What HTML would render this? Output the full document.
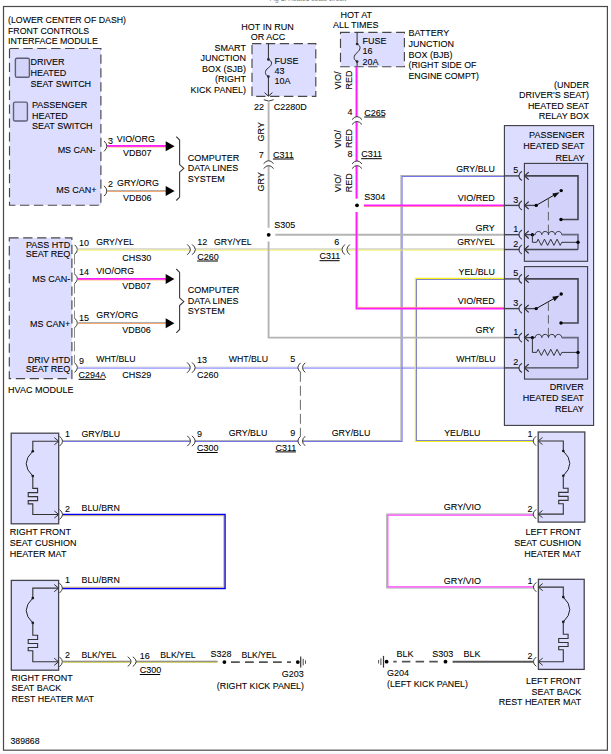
<!DOCTYPE html>
<html><head><meta charset="utf-8"><style>
html,body{margin:0;padding:0;background:#fff;width:611px;height:754px;overflow:hidden}
svg{display:block}
text{font-family:"Liberation Sans",sans-serif;stroke:#000;stroke-width:0.08px}
</style></head><body>
<svg width="611" height="754" viewBox="0 0 611 754" font-family="Liberation Sans, sans-serif" font-size="9">
<rect x="0" y="0" width="611" height="754" fill="#fff"/>
<rect x="0" y="752.5" width="611" height="2" fill="#f5f5fb"/>
<text transform="translate(269.6,1.4) scale(1,1.06)" font-size="8" fill="#808080" textLength="76.5" lengthAdjust="spacingAndGlyphs" style="stroke:none">Fig 1: Heated seats circuit</text>
<rect x="3.5" y="6.5" width="603.9" height="743.7" fill="none" stroke="#4a4a4a" stroke-width="1.2"/>
<polyline points="77.5,367.05 504.4,367.05" fill="none" stroke="#dcdcdc" stroke-width="1.1"/>
<polyline points="77.5,368.15 504.4,368.15" fill="none" stroke="#9494ff" stroke-width="1.1"/>
<polyline points="504.4,175.45 400.95,175.45 400.95,440.45 62.5,440.45" fill="none" stroke="#b0b0b0" stroke-width="1.1"/>
<polyline points="504.4,176.55 402.05,176.55 402.05,441.55 62.5,441.55" fill="none" stroke="#7474ec" stroke-width="1.1"/>
<polyline points="504.4,278.35 415.35,278.35 415.35,441.55 533.3,441.55" fill="none" stroke="#f2f020" stroke-width="1.1"/>
<polyline points="504.4,279.45 416.45,279.45 416.45,440.45 533.3,440.45" fill="none" stroke="#8484c4" stroke-width="1.1"/>
<text transform="translate(8,22.6) scale(1,1.06)" textLength="118" lengthAdjust="spacingAndGlyphs">(LOWER CENTER OF DASH)</text>
<text transform="translate(8,33.5) scale(1,1.06)" textLength="81.2" lengthAdjust="spacingAndGlyphs">FRONT CONTROLS</text>
<text transform="translate(8,44.4) scale(1,1.06)" textLength="89.8" lengthAdjust="spacingAndGlyphs">INTERFACE MODULE</text>
<rect x="9.5" y="48.5" width="91.4" height="156.7" fill="#ddddff" stroke="#474747" stroke-width="1.15" stroke-dasharray="9.3 4.6"/>
<rect x="15.4" y="58.2" width="14.0" height="19.1" fill="#d4d4fb" stroke="#5e5e76" stroke-width="1.4" rx="1.6"/>
<rect x="13.5" y="102.1" width="13.9" height="18.9" fill="#d4d4fb" stroke="#5e5e76" stroke-width="1.4" rx="1.6"/>
<text transform="translate(30.5,65.0) scale(1,1.06)">DRIVER</text>
<text transform="translate(30.5,75.8) scale(1,1.06)">HEATED</text>
<text transform="translate(30.5,86.6) scale(1,1.06)">SEAT SWITCH</text>
<text transform="translate(32,107.8) scale(1,1.06)">PASSENGER</text>
<text transform="translate(32,118.6) scale(1,1.06)">HEATED</text>
<text transform="translate(32,129.4) scale(1,1.06)">SEAT SWITCH</text>
<text transform="translate(95.6,152.7) scale(1,1.06)" text-anchor="end">MS CAN-</text>
<text transform="translate(96.4,193) scale(1,1.06)" text-anchor="end">MS CAN+</text>
<path d="M104.1,141.04999999999998 Q109.5,146.2 104.1,151.35" fill="none" stroke="#3a3a3a" stroke-width="1"/>
<polyline points="107.0,146.0 166.0,146.0" fill="none" stroke="#ff1cff" stroke-width="2.0"/>
<polyline points="107.0,147.3 166.0,147.3" fill="none" stroke="#ffc890" stroke-width="0.9"/>
<polygon points="165.7,141.2 174.6,146.2 165.7,151.2" fill="#000"/>
<text transform="translate(108,143.6) scale(1,1.06)">3</text>
<text transform="translate(116.8,141.8) scale(1,1.06)" textLength="38.0" lengthAdjust="spacingAndGlyphs">VIO/ORG</text>
<text transform="translate(123,156.3) scale(1,1.06)">VDB07</text>
<path d="M104.1,185.85 Q109.5,191 104.1,196.15" fill="none" stroke="#3a3a3a" stroke-width="1"/>
<polyline points="107.0,190.45 166.0,190.45" fill="none" stroke="#b0b0b0" stroke-width="1.1"/>
<polyline points="107.0,191.55 166.0,191.55" fill="none" stroke="#f4a870" stroke-width="1.1"/>
<polygon points="165.7,186.0 174.6,191 165.7,196.0" fill="#000"/>
<text transform="translate(108,187.2) scale(1,1.06)">2</text>
<text transform="translate(117,186.2) scale(1,1.06)" textLength="41.9" lengthAdjust="spacingAndGlyphs">GRY/ORG</text>
<text transform="translate(123,200.6) scale(1,1.06)">VDB06</text>
<path d="M176.3,136.7 L179.60000000000002,140.0 L179.60000000000002,164.6 L183.9,168.4 L179.60000000000002,172.20000000000002 L179.60000000000002,197.2 L176.3,200.5" fill="none" stroke="#3a3a3a" stroke-width="1.1" stroke-linejoin="round"/>
<text transform="translate(187.7,160.7) scale(1,1.06)">COMPUTER</text>
<text transform="translate(187.7,171.15) scale(1,1.06)">DATA LINES</text>
<text transform="translate(187.7,181.6) scale(1,1.06)">SYSTEM</text>
<rect x="9.3" y="237.8" width="62.6" height="140.8" fill="#ddddff" stroke="#474747" stroke-width="1.15" stroke-dasharray="9.3 4.6"/>
<text transform="translate(70.3,247.6) scale(1,1.06)" text-anchor="end">PASS HTD</text>
<text transform="translate(70.3,256.9) scale(1,1.06)" text-anchor="end">SEAT REQ</text>
<text transform="translate(70.3,281.5) scale(1,1.06)" text-anchor="end">MS CAN-</text>
<text transform="translate(70.3,326.5) scale(1,1.06)" text-anchor="end">MS CAN+</text>
<text transform="translate(70.3,362.6) scale(1,1.06)" text-anchor="end">DRIV HTD</text>
<text transform="translate(70.3,372.4) scale(1,1.06)" text-anchor="end">SEAT REQ</text>
<text transform="translate(8.1,392.8) scale(1,1.06)">HVAC MODULE</text>
<line x1="74.5" y1="254.4" x2="74.5" y2="274.0" stroke="#8a8a8a" stroke-width="1" stroke-dasharray="10 3.5"/>
<line x1="74.5" y1="283.6" x2="74.5" y2="318.2" stroke="#8a8a8a" stroke-width="1" stroke-dasharray="10 3.5"/>
<line x1="74.5" y1="327.8" x2="74.5" y2="362.8" stroke="#8a8a8a" stroke-width="1" stroke-dasharray="10 3.5"/>
<path d="M74.6,244.79999999999998 Q80.19999999999999,249.6 74.6,254.4" fill="none" stroke="#3a3a3a" stroke-width="1"/>
<polyline points="77.5,249.05 504.4,249.05" fill="none" stroke="#bcbcc0" stroke-width="1.1"/>
<polyline points="77.5,250.15 504.4,250.15" fill="none" stroke="#f2f250" stroke-width="0.9"/>
<text transform="translate(79,245.9) scale(1,1.06)">10</text>
<text transform="translate(96.2,244.6) scale(1,1.06)" textLength="37.6" lengthAdjust="spacingAndGlyphs">GRY/YEL</text>
<text transform="translate(122.3,260.6) scale(1,1.06)">CHS30</text>
<rect x="190.09999999999997" y="247.8" width="4.9" height="3.6" fill="#fff"/>
<path d="M187.2,244.45 Q193.6,249.6 187.2,254.75" fill="none" stroke="#3a3a3a" stroke-width="1"/>
<path d="M192.1,244.45 Q198.5,249.6 192.1,254.75" fill="none" stroke="#3a3a3a" stroke-width="1"/>
<text transform="translate(197.2,244.8) scale(1,1.06)">12</text>
<text transform="translate(214,244.6) scale(1,1.06)" textLength="37.6" lengthAdjust="spacingAndGlyphs">GRY/YEL</text>
<text transform="translate(197.2,259.7) scale(1,1.06)">C260</text>
<line x1="197.2" y1="261.0" x2="218" y2="261.0" stroke="#000" stroke-width="1"/>
<text transform="translate(334.2,244.7) scale(1,1.06)">6</text>
<text transform="translate(319.5,259.4) scale(1,1.06)">C311</text>
<line x1="319.5" y1="260.7" x2="339.6" y2="260.7" stroke="#000" stroke-width="1"/>
<text transform="translate(494.8,244.8) scale(1,1.06)" text-anchor="end" textLength="37.6" lengthAdjust="spacingAndGlyphs">GRY/YEL</text>
<path d="M74.6,274.0 Q80.19999999999999,278.8 74.6,283.6" fill="none" stroke="#3a3a3a" stroke-width="1"/>
<polyline points="77.5,278.9 166.0,278.9" fill="none" stroke="#ff1cff" stroke-width="2.0"/>
<polyline points="77.5,280.2 166.0,280.2" fill="none" stroke="#ffc890" stroke-width="0.9"/>
<polygon points="165.7,274.1 174.4,279.1 165.7,284.1" fill="#000"/>
<text transform="translate(79,275.3) scale(1,1.06)">14</text>
<text transform="translate(96.2,274.1) scale(1,1.06)" textLength="38.0" lengthAdjust="spacingAndGlyphs">VIO/ORG</text>
<text transform="translate(122.3,289.3) scale(1,1.06)">VDB07</text>
<path d="M74.6,318.2 Q80.19999999999999,323 74.6,327.8" fill="none" stroke="#3a3a3a" stroke-width="1"/>
<polyline points="77.5,322.45 166.0,322.45" fill="none" stroke="#b0b0b0" stroke-width="1.1"/>
<polyline points="77.5,323.55 166.0,323.55" fill="none" stroke="#f4a870" stroke-width="1.1"/>
<polygon points="165.7,318.2 174.4,323.2 165.7,328.2" fill="#000"/>
<text transform="translate(79,320.9) scale(1,1.06)">15</text>
<text transform="translate(96.2,318.4) scale(1,1.06)" textLength="41.9" lengthAdjust="spacingAndGlyphs">GRY/ORG</text>
<text transform="translate(122.3,333.1) scale(1,1.06)">VDB06</text>
<path d="M176.3,269 L179.60000000000002,272.3 L179.60000000000002,297.9 L183.9,301.7 L179.60000000000002,305.5 L179.60000000000002,329.5 L176.3,332.8" fill="none" stroke="#3a3a3a" stroke-width="1.1" stroke-linejoin="round"/>
<text transform="translate(187.8,293.4) scale(1,1.06)">COMPUTER</text>
<text transform="translate(187.8,303.8) scale(1,1.06)">DATA LINES</text>
<text transform="translate(187.8,314.2) scale(1,1.06)">SYSTEM</text>
<path d="M74.6,362.8 Q80.19999999999999,367.6 74.6,372.40000000000003" fill="none" stroke="#3a3a3a" stroke-width="1"/>
<text transform="translate(79,363.5) scale(1,1.06)">9</text>
<text transform="translate(96.2,361.6) scale(1,1.06)" textLength="39.3" lengthAdjust="spacingAndGlyphs">WHT/BLU</text>
<text transform="translate(78.6,378) scale(1,1.06)">C294A</text>
<line x1="78.6" y1="379.3" x2="105.2" y2="379.3" stroke="#000" stroke-width="1"/>
<text transform="translate(122.3,378) scale(1,1.06)">CHS29</text>
<rect x="189.99999999999997" y="365.8" width="4.9" height="3.6" fill="#fff"/>
<path d="M187.1,362.45000000000005 Q193.5,367.6 187.1,372.75" fill="none" stroke="#3a3a3a" stroke-width="1"/>
<path d="M192.0,362.45000000000005 Q198.4,367.6 192.0,372.75" fill="none" stroke="#3a3a3a" stroke-width="1"/>
<text transform="translate(196.9,362.7) scale(1,1.06)">13</text>
<text transform="translate(196.9,377.5) scale(1,1.06)">C260</text>
<text transform="translate(228.7,361.8) scale(1,1.06)" textLength="39.3" lengthAdjust="spacingAndGlyphs">WHT/BLU</text>
<text transform="translate(290.3,362.3) scale(1,1.06)">5</text>
<text transform="translate(495.5,362.4) scale(1,1.06)" text-anchor="end" textLength="39.3" lengthAdjust="spacingAndGlyphs">WHT/BLU</text>
<text transform="translate(267.5,29.6) scale(1,1.06)" text-anchor="middle">HOT IN RUN</text>
<text transform="translate(268.1,39.5) scale(1,1.06)" text-anchor="middle">OR ACC</text>
<text transform="translate(245.9,50.5) scale(1,1.06)" text-anchor="end">SMART</text>
<text transform="translate(245.9,61.05) scale(1,1.06)" text-anchor="end">JUNCTION</text>
<text transform="translate(245.9,71.6) scale(1,1.06)" text-anchor="end">BOX (SJB)</text>
<text transform="translate(245.9,82.15) scale(1,1.06)" text-anchor="end">(RIGHT</text>
<text transform="translate(245.9,92.7) scale(1,1.06)" text-anchor="end">KICK PANEL)</text>
<rect x="252" y="43.6" width="63.8" height="52.7" fill="#ddddff" stroke="#474747" stroke-width="1.15" stroke-dasharray="9.3 4.6"/>
<line x1="268.4" y1="43.6" x2="268.4" y2="59.4" stroke="#2a2a2a" stroke-width="1"/>
<path d="M268.4,59.4 C272.6,61.2 272.6,64.8 268.4,67.8 C264.4,70.6 264.4,74.6 268.4,76.6" fill="none" stroke="#2a2a2a" stroke-width="1"/>
<circle cx="268.4" cy="59.4" r="1.35" fill="#2a2a2a"/>
<circle cx="268.4" cy="76.6" r="1.35" fill="#2a2a2a"/>
<line x1="268.4" y1="76.6" x2="268.4" y2="96" stroke="#2a2a2a" stroke-width="1"/>
<polyline points="264.6,92.6 268.4,96.2 272.4,92.6" fill="none" stroke="#2a2a2a" stroke-width="1"/>
<text transform="translate(274.5,64.0) scale(1,1.06)">FUSE</text>
<text transform="translate(274.5,73.85) scale(1,1.06)">43</text>
<text transform="translate(274.5,83.7) scale(1,1.06)">10A</text>
<path d="M263.8,99.7 Q268.7,102.5 273.59999999999997,99.7" fill="none" stroke="#3a3a3a" stroke-width="1"/>
<text transform="translate(254.1,110.4) scale(1,1.06)">22</text>
<text transform="translate(273.7,110.4) scale(1,1.06)">C2280D</text>
<line x1="268.6" y1="102.3" x2="268.6" y2="227.8" stroke="#b4b4b4" stroke-width="1.9"/>
<polyline points="268.6,241.5 268.6,337.6 504.4,337.6" fill="none" stroke="#b4b4b4" stroke-width="1.9"/>
<line x1="275.3" y1="234.7" x2="504.4" y2="234.7" stroke="#b4b4b4" stroke-width="1.9"/>
<circle cx="268.7" cy="234.8" r="1.9" fill="#000"/>
<text transform="translate(274.3,227.5) scale(1,1.06)">S305</text>
<text transform="translate(264.2,141.4) rotate(-90) scale(1,1.06)">GRY</text>
<text transform="translate(263.5,191.4) rotate(-90) scale(1,1.06)">GRY</text>
<rect x="266.8" y="161.0" width="3.6" height="4.9" fill="#fff"/>
<path d="M263.6,163.7 Q268.6,157.7 273.6,163.7" fill="none" stroke="#3a3a3a" stroke-width="1"/>
<path d="M263.6,168.6 Q268.6,162.6 273.6,168.6" fill="none" stroke="#3a3a3a" stroke-width="1"/>
<text transform="translate(258.7,157.7) scale(1,1.06)">7</text>
<text transform="translate(272.9,157.7) scale(1,1.06)">C311</text>
<line x1="272.9" y1="159.0" x2="293.9" y2="159.0" stroke="#000" stroke-width="1"/>
<text transform="translate(494.8,230.6) scale(1,1.06)" text-anchor="end">GRY</text>
<text transform="translate(494.8,333.4) scale(1,1.06)" text-anchor="end">GRY</text>
<text transform="translate(356.2,17.8) scale(1,1.06)" text-anchor="middle">HOT AT</text>
<text transform="translate(355.8,28.3) scale(1,1.06)" text-anchor="middle">ALL TIMES</text>
<rect x="340.5" y="32.4" width="63.9" height="34.3" fill="#ddddff" stroke="#474747" stroke-width="1.15" stroke-dasharray="9.3 4.6"/>
<line x1="357.1" y1="32.4" x2="357.1" y2="44" stroke="#2a2a2a" stroke-width="1"/>
<path d="M357.1,44 C361,45.8 361,49.4 357.1,52.6 C353.2,55.6 353.2,59.6 357.1,61.6" fill="none" stroke="#2a2a2a" stroke-width="1"/>
<circle cx="357.1" cy="44" r="1.35" fill="#2a2a2a"/>
<circle cx="357.1" cy="61.6" r="1.35" fill="#2a2a2a"/>
<line x1="357.1" y1="61.6" x2="357.1" y2="66.7" stroke="#2a2a2a" stroke-width="1"/>
<text transform="translate(362.6,44.4) scale(1,1.06)">FUSE</text>
<text transform="translate(362.6,54.45) scale(1,1.06)">16</text>
<text transform="translate(362.6,64.5) scale(1,1.06)">20A</text>
<text transform="translate(408.5,35.9) scale(1,1.06)">BATTERY</text>
<text transform="translate(408.5,46.75) scale(1,1.06)">JUNCTION</text>
<text transform="translate(408.5,57.6) scale(1,1.06)">BOX (BJB)</text>
<text transform="translate(408.5,68.45) scale(1,1.06)" textLength="67.9" lengthAdjust="spacingAndGlyphs">(RIGHT SIDE OF</text>
<text transform="translate(408.5,79.3) scale(1,1.06)" textLength="70.5" lengthAdjust="spacingAndGlyphs">ENGINE COMPT)</text>
<polyline points="356.4,66.7 356.4,198.7" fill="none" stroke="#ff1cff" stroke-width="1.7"/>
<polyline points="357.6,66.7 357.6,198.7" fill="none" stroke="#ff7a86" stroke-width="0.8"/>
<polyline points="356.4,211.9 356.4,308.6 504.4,308.6" fill="none" stroke="#ff1cff" stroke-width="1.7"/>
<polyline points="357.6,211.9 357.6,307.4 504.4,307.4" fill="none" stroke="#ff7a86" stroke-width="0.8"/>
<polyline points="363.9,205.3 504.4,205.3" fill="none" stroke="#ff1cff" stroke-width="1.7"/>
<polyline points="363.9,206.5 504.4,206.5" fill="none" stroke="#ff7a86" stroke-width="0.8"/>
<circle cx="357" cy="205.3" r="1.9" fill="#000"/>
<text transform="translate(364.2,200.3) scale(1,1.06)">S304</text>
<text transform="translate(341.4,89.4) rotate(-90) scale(1,1.06)">VIO/</text>
<text transform="translate(352.4,89.4) rotate(-90) scale(1,1.06)">RED</text>
<text transform="translate(341.4,147.9) rotate(-90) scale(1,1.06)">VIO/</text>
<text transform="translate(352.4,147.9) rotate(-90) scale(1,1.06)">RED</text>
<text transform="translate(341.4,192.3) rotate(-90) scale(1,1.06)">VIO/</text>
<text transform="translate(352.4,192.3) rotate(-90) scale(1,1.06)">RED</text>
<rect x="355.2" y="116.89999999999999" width="3.6" height="4.9" fill="#fff"/>
<path d="M352.0,119.6 Q357,113.6 362.0,119.6" fill="none" stroke="#3a3a3a" stroke-width="1"/>
<path d="M352.0,124.5 Q357,118.5 362.0,124.5" fill="none" stroke="#3a3a3a" stroke-width="1"/>
<text transform="translate(347.5,115.3) scale(1,1.06)">4</text>
<text transform="translate(364.2,115.7) scale(1,1.06)">C265</text>
<line x1="364.2" y1="117.0" x2="385.2" y2="117.0" stroke="#000" stroke-width="1"/>
<rect x="355.2" y="161.20000000000002" width="3.6" height="4.7" fill="#fff"/>
<path d="M352.0,163.9 Q357,157.9 362.0,163.9" fill="none" stroke="#3a3a3a" stroke-width="1"/>
<path d="M352.0,168.6 Q357,162.6 362.0,168.6" fill="none" stroke="#3a3a3a" stroke-width="1"/>
<text transform="translate(347.5,157.4) scale(1,1.06)">8</text>
<text transform="translate(361.2,157.4) scale(1,1.06)">C311</text>
<line x1="361.2" y1="158.70000000000002" x2="381.8" y2="158.70000000000002" stroke="#000" stroke-width="1"/>
<text transform="translate(494.8,200.8) scale(1,1.06)" text-anchor="end">VIO/RED</text>
<text transform="translate(494.8,303.8) scale(1,1.06)" text-anchor="end">VIO/RED</text>
<text transform="translate(494.8,171.5) scale(1,1.06)" text-anchor="end" textLength="38.6" lengthAdjust="spacingAndGlyphs">GRY/BLU</text>
<rect x="190.2" y="439.2" width="4.7" height="3.6" fill="#fff"/>
<path d="M187.3,435.85 Q193.70000000000002,441 187.3,446.15" fill="none" stroke="#3a3a3a" stroke-width="1"/>
<path d="M192.0,435.85 Q198.4,441 192.0,446.15" fill="none" stroke="#3a3a3a" stroke-width="1"/>
<text transform="translate(196.9,436.5) scale(1,1.06)">9</text>
<text transform="translate(228.7,436.4) scale(1,1.06)" textLength="38.6" lengthAdjust="spacingAndGlyphs">GRY/BLU</text>
<text transform="translate(196.9,451.2) scale(1,1.06)">C300</text>
<line x1="196.9" y1="452.5" x2="217.7" y2="452.5" stroke="#000" stroke-width="1"/>
<text transform="translate(290.2,436.2) scale(1,1.06)">9</text>
<text transform="translate(275.5,450.6) scale(1,1.06)">C311</text>
<line x1="275.5" y1="451.90000000000003" x2="295.9" y2="451.90000000000003" stroke="#000" stroke-width="1"/>
<text transform="translate(331.7,436.3) scale(1,1.06)" textLength="38.6" lengthAdjust="spacingAndGlyphs">GRY/BLU</text>
<rect x="298.20000000000005" y="365.8" width="4.6" height="3.6" fill="#fff"/>
<path d="M300.6,362.8 Q295.20000000000005,367.6 300.6,372.40000000000003" fill="none" stroke="#3a3a3a" stroke-width="1"/>
<path d="M305.2,362.8 Q299.8,367.6 305.2,372.40000000000003" fill="none" stroke="#3a3a3a" stroke-width="1"/>
<rect x="298.20000000000005" y="439.2" width="4.6" height="3.6" fill="#fff"/>
<path d="M300.6,436.2 Q295.20000000000005,441 300.6,445.8" fill="none" stroke="#3a3a3a" stroke-width="1"/>
<path d="M305.2,436.2 Q299.8,441 305.2,445.8" fill="none" stroke="#3a3a3a" stroke-width="1"/>
<line x1="300.4" y1="371.8" x2="300.4" y2="436.4" stroke="#6a6a6a" stroke-width="1" stroke-dasharray="10 4"/>
<rect x="342.3" y="247.8" width="4.9" height="3.6" fill="#fff"/>
<path d="M344.9,244.5 Q339.09999999999997,249.6 344.9,254.7" fill="none" stroke="#3a3a3a" stroke-width="1"/>
<path d="M349.8,244.5 Q344.0,249.6 349.8,254.7" fill="none" stroke="#3a3a3a" stroke-width="1"/>
<text transform="translate(494.8,274.5) scale(1,1.06)" text-anchor="end" textLength="36.3" lengthAdjust="spacingAndGlyphs">YEL/BLU</text>
<text transform="translate(444.2,436.3) scale(1,1.06)" textLength="36.3" lengthAdjust="spacingAndGlyphs">YEL/BLU</text>
<polyline points="533.3,514.05 386.75,514.05 386.75,587.95 533.3,587.95" fill="none" stroke="#a8a8a8" stroke-width="1.1"/>
<polyline points="533.3,515.15 387.85,515.15 387.85,586.85 533.3,586.85" fill="none" stroke="#ff44ff" stroke-width="1.1"/>
<text transform="translate(443.8,510.4) scale(1,1.06)">GRY/VIO</text>
<text transform="translate(443.8,583.5) scale(1,1.06)">GRY/VIO</text>
<polyline points="62.5,514.5 225.0,514.5 225.0,588.4 62.5,588.4" fill="none" stroke="#0000f4" stroke-width="1.5"/>
<polyline points="62.5,515.7 223.8,515.7 223.8,587.2 62.5,587.2" fill="none" stroke="#c0a058" stroke-width="0.8"/>
<text transform="translate(81.5,510.5) scale(1,1.06)" textLength="38.3" lengthAdjust="spacingAndGlyphs">BLU/BRN</text>
<text transform="translate(81.5,583.3) scale(1,1.06)" textLength="38.3" lengthAdjust="spacingAndGlyphs">BLU/BRN</text>
<text transform="translate(589,87.6) scale(1,1.06)" text-anchor="end">(UNDER</text>
<text transform="translate(589,98.2) scale(1,1.06)" text-anchor="end">DRIVER'S SEAT)</text>
<text transform="translate(589,108.8) scale(1,1.06)" text-anchor="end">HEATED SEAT</text>
<text transform="translate(589,119.4) scale(1,1.06)" text-anchor="end">RELAY BOX</text>
<rect x="504.4" y="125.6" width="89.2" height="299.8" fill="#ddddff" stroke="#3c3c44" stroke-width="1.1"/>
<text transform="translate(584.4,137.7) scale(1,1.06)" text-anchor="end">PASSENGER</text>
<text transform="translate(584.4,149.15) scale(1,1.06)" text-anchor="end">HEATED SEAT</text>
<text transform="translate(584.4,160.6) scale(1,1.06)" text-anchor="end">RELAY</text>
<rect x="524.4" y="163.4" width="63.2" height="97.9" fill="#d2d2fa" stroke="#3c3c44" stroke-width="1.1"/>
<rect x="524.5" y="266.6" width="63.1" height="112.5" fill="#d2d2fa" stroke="#3c3c44" stroke-width="1.1"/>
<text transform="translate(583.8,389.8) scale(1,1.06)" text-anchor="end">DRIVER</text>
<text transform="translate(583.8,400.75) scale(1,1.06)" text-anchor="end">HEATED SEAT</text>
<text transform="translate(583.8,411.7) scale(1,1.06)" text-anchor="end">RELAY</text>
<line x1="504.4" y1="175.9" x2="519.5" y2="175.9" stroke="#44444f" stroke-width="1.4"/>
<path d="M521.9,171.25 Q515.6999999999999,175.9 521.9,180.55" fill="none" stroke="#3a3a3a" stroke-width="1.1"/>
<polyline points="528.7,172.1 524.6,175.9 528.7,179.70000000000002" fill="none" stroke="#222" stroke-width="1.1"/>
<text transform="translate(518.2,173.0) scale(1,1.06)" text-anchor="end">5</text>
<line x1="504.4" y1="205.4" x2="519.5" y2="205.4" stroke="#44444f" stroke-width="1.4"/>
<path d="M521.9,200.75 Q515.6999999999999,205.4 521.9,210.05" fill="none" stroke="#3a3a3a" stroke-width="1.1"/>
<polyline points="528.7,201.6 524.6,205.4 528.7,209.20000000000002" fill="none" stroke="#222" stroke-width="1.1"/>
<text transform="translate(518.2,202.5) scale(1,1.06)" text-anchor="end">3</text>
<line x1="504.4" y1="234.7" x2="519.5" y2="234.7" stroke="#44444f" stroke-width="1.4"/>
<path d="M521.9,230.04999999999998 Q515.6999999999999,234.7 521.9,239.35" fill="none" stroke="#3a3a3a" stroke-width="1.1"/>
<polyline points="528.7,230.89999999999998 524.6,234.7 528.7,238.5" fill="none" stroke="#222" stroke-width="1.1"/>
<text transform="translate(518.2,231.8) scale(1,1.06)" text-anchor="end">1</text>
<line x1="504.4" y1="249.5" x2="519.5" y2="249.5" stroke="#44444f" stroke-width="1.4"/>
<path d="M521.9,244.85 Q515.6999999999999,249.5 521.9,254.15" fill="none" stroke="#3a3a3a" stroke-width="1.1"/>
<polyline points="528.7,245.7 524.6,249.5 528.7,253.3" fill="none" stroke="#222" stroke-width="1.1"/>
<text transform="translate(518.2,246.6) scale(1,1.06)" text-anchor="end">2</text>
<polyline points="524.6,175.9 578,175.9 578,219.5 561,219.5" fill="none" stroke="#44444f" stroke-width="1.6"/>
<circle cx="561" cy="219.5" r="1.7" fill="#000"/>
<line x1="524.6" y1="205.4" x2="536.2" y2="205.4" stroke="#44444f" stroke-width="1.3"/>
<circle cx="536.2" cy="205.4" r="1.7" fill="#000"/>
<line x1="536.2" y1="205.4" x2="556.5" y2="193.7" stroke="#111" stroke-width="1"/>
<polygon points="559.60,192.20 554.71,197.80 552.27,193.43" fill="#111"/>
<circle cx="561.2" cy="190.6" r="1.7" fill="#000"/>
<line x1="548.4" y1="199.1" x2="548.4" y2="234.2" stroke="#555" stroke-width="0.9" stroke-dasharray="8.5 4.3"/>
<line x1="524.6" y1="234.7" x2="532.4" y2="234.7" stroke="#44444f" stroke-width="1.3"/>
<circle cx="532.4" cy="234.7" r="1.7" fill="#000"/>
<line x1="532.4" y1="234.7" x2="535.2" y2="234.7" stroke="#222" stroke-width="0.9"/>
<path d="M535.2,234.7 C535.5,230.41 541.5500000000001,230.41 541.85,234.7 C542.15,230.41 548.2,230.41 548.5,234.7 C548.8,230.41 554.85,230.41 555.15,234.7 C555.4499999999999,230.41 561.5,230.41 561.8,234.7" fill="none" stroke="#222" stroke-width="0.9"/>
<polyline points="561.8,234.7 578,234.7 578,249.5" fill="none" stroke="#6a6a7e" stroke-width="1.7"/>
<polyline points="532.4,234.7 532.4,242.3 536.6,242.3" fill="none" stroke="#222" stroke-width="0.9"/>
<polyline points="536.6,242.3 538.18,239.20000000000002 541.33,245.4 544.48,239.20000000000002 547.62,245.4 550.78,239.20000000000002 553.93,245.4 557.08,239.20000000000002 560.23,245.4 561.8,242.3" fill="none" stroke="#222" stroke-width="0.9"/>
<line x1="561.8" y1="242.3" x2="578" y2="242.3" stroke="#222" stroke-width="0.9"/>
<circle cx="578" cy="242.3" r="1.7" fill="#000"/>
<line x1="524.6" y1="249.5" x2="578" y2="249.5" stroke="#44444f" stroke-width="1.3"/>
<line x1="504.4" y1="278.9" x2="519.5" y2="278.9" stroke="#44444f" stroke-width="1.4"/>
<path d="M521.9,274.25 Q515.6999999999999,278.9 521.9,283.54999999999995" fill="none" stroke="#3a3a3a" stroke-width="1.1"/>
<polyline points="528.7,275.09999999999997 524.6,278.9 528.7,282.7" fill="none" stroke="#222" stroke-width="1.1"/>
<text transform="translate(518.2,276.0) scale(1,1.06)" text-anchor="end">5</text>
<line x1="504.4" y1="308.6" x2="519.5" y2="308.6" stroke="#44444f" stroke-width="1.4"/>
<path d="M521.9,303.95000000000005 Q515.6999999999999,308.6 521.9,313.25" fill="none" stroke="#3a3a3a" stroke-width="1.1"/>
<polyline points="528.7,304.8 524.6,308.6 528.7,312.40000000000003" fill="none" stroke="#222" stroke-width="1.1"/>
<text transform="translate(518.2,305.7) scale(1,1.06)" text-anchor="end">3</text>
<line x1="504.4" y1="337.6" x2="519.5" y2="337.6" stroke="#44444f" stroke-width="1.4"/>
<path d="M521.9,332.95000000000005 Q515.6999999999999,337.6 521.9,342.25" fill="none" stroke="#3a3a3a" stroke-width="1.1"/>
<polyline points="528.7,333.8 524.6,337.6 528.7,341.40000000000003" fill="none" stroke="#222" stroke-width="1.1"/>
<text transform="translate(518.2,334.7) scale(1,1.06)" text-anchor="end">1</text>
<line x1="504.4" y1="367.9" x2="519.5" y2="367.9" stroke="#44444f" stroke-width="1.4"/>
<path d="M521.9,363.25 Q515.6999999999999,367.9 521.9,372.54999999999995" fill="none" stroke="#3a3a3a" stroke-width="1.1"/>
<polyline points="528.7,364.09999999999997 524.6,367.9 528.7,371.7" fill="none" stroke="#222" stroke-width="1.1"/>
<text transform="translate(518.2,365.0) scale(1,1.06)" text-anchor="end">2</text>
<polyline points="524.6,278.9 578,278.9 578,323.0 561,323.0" fill="none" stroke="#44444f" stroke-width="1.6"/>
<circle cx="561" cy="323.0" r="1.7" fill="#000"/>
<line x1="524.6" y1="308.6" x2="536.2" y2="308.6" stroke="#44444f" stroke-width="1.3"/>
<circle cx="536.2" cy="308.6" r="1.7" fill="#000"/>
<line x1="536.2" y1="308.6" x2="556.5" y2="297.1" stroke="#111" stroke-width="1"/>
<polygon points="559.60,295.60 554.67,301.17 552.26,296.79" fill="#111"/>
<circle cx="561.2" cy="294.0" r="1.7" fill="#000"/>
<line x1="548.4" y1="302.3" x2="548.4" y2="337.1" stroke="#555" stroke-width="0.9" stroke-dasharray="8.5 4.3"/>
<line x1="524.6" y1="337.6" x2="532.4" y2="337.6" stroke="#44444f" stroke-width="1.3"/>
<circle cx="532.4" cy="337.6" r="1.7" fill="#000"/>
<line x1="532.4" y1="337.6" x2="535.2" y2="337.6" stroke="#222" stroke-width="0.9"/>
<path d="M535.2,337.6 C535.5,333.31 541.5500000000001,333.31 541.85,337.6 C542.15,333.31 548.2,333.31 548.5,337.6 C548.8,333.31 554.85,333.31 555.15,337.6 C555.4499999999999,333.31 561.5,333.31 561.8,337.6" fill="none" stroke="#222" stroke-width="0.9"/>
<polyline points="561.8,337.6 578,337.6 578,367.9" fill="none" stroke="#6a6a7e" stroke-width="1.7"/>
<polyline points="532.4,337.6 532.4,352.4 536.6,352.4" fill="none" stroke="#222" stroke-width="0.9"/>
<polyline points="536.6,352.4 538.18,349.29999999999995 541.33,355.5 544.48,349.29999999999995 547.62,355.5 550.78,349.29999999999995 553.93,355.5 557.08,349.29999999999995 560.23,355.5 561.8,352.4" fill="none" stroke="#222" stroke-width="0.9"/>
<line x1="561.8" y1="352.4" x2="578" y2="352.4" stroke="#222" stroke-width="0.9"/>
<circle cx="578" cy="352.4" r="1.7" fill="#000"/>
<line x1="524.6" y1="367.9" x2="578" y2="367.9" stroke="#44444f" stroke-width="1.3"/>
<rect x="11.2" y="433.2" width="47.5" height="90.6" fill="#ddddff" stroke="#454550" stroke-width="1.3"/>
<polyline points="58.7,441.2 32.8,441.2 32.8,451.2" fill="none" stroke="#333" stroke-width="1.1"/>
<path d="M32.8,451.2 Q19.599999999999998,463.6 32.8,476.0" fill="none" stroke="#222" stroke-width="1"/>
<circle cx="32.8" cy="451.2" r="1.3" fill="#111"/>
<circle cx="32.8" cy="476.0" r="1.3" fill="#111"/>
<polyline points="32.8,476.0 32.8,488.4 37.6,488.4 37.6,492.6 28.2,492.6 28.2,496.6 37.6,496.6 37.6,500.6 28.2,500.6 28.2,503.9 32.8,503.9 32.8,514.5 58.7,514.5" fill="none" stroke="#333" stroke-width="1.1"/>
<polyline points="54.300000000000004,437.59999999999997 58.7,441.2 54.300000000000004,444.8" fill="none" stroke="#333" stroke-width="1"/>
<path d="M59.5,436.25 Q65.5,441.2 59.5,446.15" fill="none" stroke="#3a3a3a" stroke-width="1"/>
<polyline points="54.300000000000004,510.9 58.7,514.5 54.300000000000004,518.1" fill="none" stroke="#333" stroke-width="1"/>
<path d="M59.5,509.55 Q65.5,514.5 59.5,519.45" fill="none" stroke="#3a3a3a" stroke-width="1"/>
<rect x="11.3" y="580.4" width="47.3" height="89.8" fill="#ddddff" stroke="#454550" stroke-width="1.3"/>
<polyline points="58.6,588.1 32.8,588.1 32.8,598.1" fill="none" stroke="#333" stroke-width="1.1"/>
<path d="M32.8,598.1 Q19.599999999999998,610.5 32.8,622.9" fill="none" stroke="#222" stroke-width="1"/>
<circle cx="32.8" cy="598.1" r="1.3" fill="#111"/>
<circle cx="32.8" cy="622.9" r="1.3" fill="#111"/>
<polyline points="32.8,622.9 32.8,635.3 37.6,635.3 37.6,639.5 28.2,639.5 28.2,643.5 37.6,643.5 37.6,647.5 28.2,647.5 28.2,650.8 32.8,650.8 32.8,661.8 58.6,661.8" fill="none" stroke="#333" stroke-width="1.1"/>
<polyline points="54.2,584.5 58.6,588.1 54.2,591.7" fill="none" stroke="#333" stroke-width="1"/>
<path d="M59.4,583.15 Q65.4,588.1 59.4,593.0500000000001" fill="none" stroke="#3a3a3a" stroke-width="1"/>
<polyline points="54.2,658.1999999999999 58.6,661.8 54.2,665.4" fill="none" stroke="#333" stroke-width="1"/>
<path d="M59.4,656.8499999999999 Q65.4,661.8 59.4,666.75" fill="none" stroke="#3a3a3a" stroke-width="1"/>
<rect x="538.2" y="432.0" width="46.6" height="90.1" fill="#ddddff" stroke="#454550" stroke-width="1.3"/>
<polyline points="538.2,441.0 563.3,441.0 563.3,451.0" fill="none" stroke="#333" stroke-width="1.1"/>
<path d="M563.3,451.0 Q576.3,463.4 563.3,475.8" fill="none" stroke="#222" stroke-width="1"/>
<circle cx="563.3" cy="451.0" r="1.3" fill="#111"/>
<circle cx="563.3" cy="475.8" r="1.3" fill="#111"/>
<polyline points="563.3,475.8 563.3,488.2 568.1,488.2 568.1,492.4 558.7,492.4 558.7,496.4 568.1,496.4 568.1,500.4 558.7,500.4 558.7,503.7 563.3,503.7 563.3,514.1 538.2,514.1" fill="none" stroke="#333" stroke-width="1.1"/>
<polyline points="542.5,437.4 538.2,441.0 542.5,444.6" fill="none" stroke="#333" stroke-width="1"/>
<path d="M536.1,436.3 Q530.3000000000001,441.0 536.1,445.7" fill="none" stroke="#3a3a3a" stroke-width="1"/>
<polyline points="542.5,510.5 538.2,514.1 542.5,517.7" fill="none" stroke="#333" stroke-width="1"/>
<path d="M536.1,509.40000000000003 Q530.3000000000001,514.1 536.1,518.8000000000001" fill="none" stroke="#3a3a3a" stroke-width="1"/>
<rect x="538.4" y="579.3" width="45.8" height="90.1" fill="#ddddff" stroke="#454550" stroke-width="1.3"/>
<polyline points="538.4,587.1 563.3,587.1 563.3,597.1" fill="none" stroke="#333" stroke-width="1.1"/>
<path d="M563.3,597.1 Q576.3,609.5 563.3,621.9" fill="none" stroke="#222" stroke-width="1"/>
<circle cx="563.3" cy="597.1" r="1.3" fill="#111"/>
<circle cx="563.3" cy="621.9" r="1.3" fill="#111"/>
<polyline points="563.3,621.9 563.3,634.3 568.1,634.3 568.1,638.5 558.7,638.5 558.7,642.5 568.1,642.5 568.1,646.5 558.7,646.5 558.7,649.8 563.3,649.8 563.3,661.7 538.4,661.7" fill="none" stroke="#333" stroke-width="1.1"/>
<polyline points="542.6999999999999,583.5 538.4,587.1 542.6999999999999,590.7" fill="none" stroke="#333" stroke-width="1"/>
<path d="M536.3,582.4 Q530.5,587.1 536.3,591.8000000000001" fill="none" stroke="#3a3a3a" stroke-width="1"/>
<polyline points="542.6999999999999,658.1 538.4,661.7 542.6999999999999,665.3000000000001" fill="none" stroke="#333" stroke-width="1"/>
<path d="M536.3,657.0 Q530.5,661.7 536.3,666.4000000000001" fill="none" stroke="#3a3a3a" stroke-width="1"/>
<text transform="translate(65,436.8) scale(1,1.06)">1</text>
<text transform="translate(81.5,436.8) scale(1,1.06)" textLength="38.6" lengthAdjust="spacingAndGlyphs">GRY/BLU</text>
<text transform="translate(65,511.7) scale(1,1.06)">2</text>
<text transform="translate(9.8,535.4) scale(1,1.06)">RIGHT FRONT</text>
<text transform="translate(9.8,546.3) scale(1,1.06)">SEAT CUSHION</text>
<text transform="translate(9.8,557.2) scale(1,1.06)">HEATER MAT</text>
<text transform="translate(65,583.3) scale(1,1.06)">1</text>
<text transform="translate(65,658.2) scale(1,1.06)">2</text>
<text transform="translate(11.5,680.5) scale(1,1.06)">RIGHT FRONT</text>
<text transform="translate(11.5,691.3) scale(1,1.06)">SEAT BACK</text>
<text transform="translate(11.5,702.1) scale(1,1.06)" textLength="82.5" lengthAdjust="spacingAndGlyphs">REST HEATER MAT</text>
<text transform="translate(532.6,436.7) scale(1,1.06)" text-anchor="end">1</text>
<text transform="translate(532.6,511.8) scale(1,1.06)" text-anchor="end">2</text>
<text transform="translate(580.9,534.7) scale(1,1.06)" text-anchor="end">LEFT FRONT</text>
<text transform="translate(580.9,545.65) scale(1,1.06)" text-anchor="end">SEAT CUSHION</text>
<text transform="translate(580.9,556.6) scale(1,1.06)" text-anchor="end">HEATER MAT</text>
<text transform="translate(532.6,583.7) scale(1,1.06)" text-anchor="end">1</text>
<text transform="translate(532.6,658.6) scale(1,1.06)" text-anchor="end">2</text>
<text transform="translate(581.2,683.6) scale(1,1.06)" text-anchor="end">LEFT FRONT</text>
<text transform="translate(581.2,694.5) scale(1,1.06)" text-anchor="end">SEAT BACK</text>
<text transform="translate(581.2,705.4) scale(1,1.06)" text-anchor="end" textLength="82.5" lengthAdjust="spacingAndGlyphs">REST HEATER MAT</text>
<polyline points="62.5,661.25 217.6,661.25" fill="none" stroke="#6a6a6a" stroke-width="1.0"/>
<polyline points="62.5,662.35 217.6,662.35" fill="none" stroke="#c8c040" stroke-width="0.9"/>
<rect x="130.79999999999998" y="659.8" width="5.1" height="3.6" fill="#fff"/>
<path d="M127.7,656.7 Q134.5,661.6 127.7,666.5" fill="none" stroke="#3a3a3a" stroke-width="1"/>
<path d="M132.8,656.7 Q139.60000000000002,661.6 132.8,666.5" fill="none" stroke="#3a3a3a" stroke-width="1"/>
<text transform="translate(81.4,657.8) scale(1,1.06)" textLength="35.2" lengthAdjust="spacingAndGlyphs">BLK/YEL</text>
<text transform="translate(139.8,659.4) scale(1,1.06)">16</text>
<text transform="translate(160.3,657.8) scale(1,1.06)" textLength="35.2" lengthAdjust="spacingAndGlyphs">BLK/YEL</text>
<text transform="translate(139.8,673.2) scale(1,1.06)">C300</text>
<line x1="139.8" y1="674.5" x2="160.2" y2="674.5" stroke="#000" stroke-width="1"/>
<circle cx="224.4" cy="662.1" r="1.9" fill="#000"/>
<text transform="translate(210.6,656.6) scale(1,1.06)">S328</text>
<line x1="231.0" y1="662.1" x2="291.0" y2="662.1" stroke="#555555" stroke-width="1.8" stroke-dasharray="8.8 5.2"/>
<text transform="translate(241.5,658) scale(1,1.06)" textLength="35.2" lengthAdjust="spacingAndGlyphs">BLK/YEL</text>
<circle cx="297.8" cy="662.1" r="1.9" fill="#000"/>
<line x1="300.7" y1="656.6" x2="300.7" y2="667.6" stroke="#333" stroke-width="1.2"/>
<line x1="303.2" y1="658.8" x2="303.2" y2="665.4" stroke="#444" stroke-width="1"/>
<line x1="305.5" y1="660.4" x2="305.5" y2="663.8" stroke="#555" stroke-width="1"/>
<text transform="translate(303.8,677.4) scale(1,1.06)" text-anchor="end">G203</text>
<text transform="translate(216.8,688.6) scale(1,1.06)" textLength="87.2" lengthAdjust="spacingAndGlyphs">(RIGHT KICK PANEL)</text>
<line x1="452.6" y1="661.7" x2="533.3" y2="661.7" stroke="#555555" stroke-width="1.9"/>
<circle cx="445.5" cy="661.7" r="1.9" fill="#000"/>
<line x1="437.8" y1="661.7" x2="393.3" y2="661.7" stroke="#555555" stroke-width="1.8" stroke-dasharray="8.5 5.2"/>
<circle cx="386.6" cy="661.7" r="1.9" fill="#000"/>
<line x1="383.5" y1="655.9" x2="383.5" y2="667.6" stroke="#333" stroke-width="1.2"/>
<line x1="380.9" y1="658.4" x2="380.9" y2="665.0" stroke="#444" stroke-width="1"/>
<line x1="378.6" y1="660.0" x2="378.6" y2="663.5" stroke="#555" stroke-width="1"/>
<text transform="translate(396.6,657.4) scale(1,1.06)">BLK</text>
<text transform="translate(432.3,656.8) scale(1,1.06)">S303</text>
<text transform="translate(463.6,657.4) scale(1,1.06)">BLK</text>
<text transform="translate(387,676.2) scale(1,1.06)">G204</text>
<text transform="translate(387,687.2) scale(1,1.06)" textLength="80.9" lengthAdjust="spacingAndGlyphs">(LEFT KICK PANEL)</text>
<text transform="translate(10.5,743.8) scale(1,1.06)" textLength="29" lengthAdjust="spacingAndGlyphs">389868</text>
</svg>
</body></html>
